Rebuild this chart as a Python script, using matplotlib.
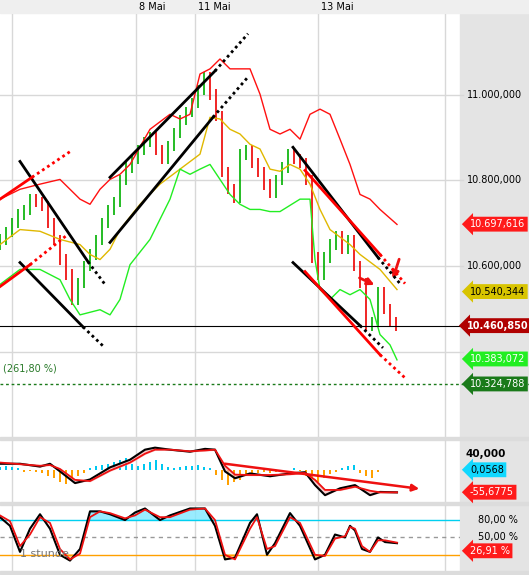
import matplotlib
matplotlib.use("Agg")
import matplotlib.pyplot as plt
import numpy as np

# ---- data ----
t_bars = list(range(0, 397, 6))
closes = [10.662,10.68,10.70,10.72,10.73,10.756,10.75,10.74,10.70,10.66,10.615,10.58,10.52,10.56,10.60,10.627,
          10.66,10.70,10.73,10.75,10.80,10.83,10.85,10.87,10.89,10.90,10.87,10.85,10.88,10.91,10.94,10.96,10.98,
          11.01,11.04,11.00,10.95,10.82,10.78,10.76,10.86,10.87,10.84,10.82,10.79,10.77,10.80,10.83,10.86,10.85,
          10.84,10.80,10.62,10.58,10.62,10.65,10.67,10.64,10.66,10.60,10.56,10.46,10.47,10.54,10.50,10.47,10.46]
open0 = 10.65

up_t = [0,20,40,60,70,80,90,100,110,120,130,150,170,180,190,200,210,220,230,240,250,260,270,280,290,300,310,320,330,340,350,360,370,380,397]
up_v = [10.756,10.779,10.791,10.802,10.779,10.756,10.744,10.779,10.802,10.814,10.837,10.919,10.954,10.943,10.954,11.048,11.060,11.083,11.060,11.060,11.060,11.001,10.919,10.908,10.919,10.896,10.954,10.966,10.954,10.896,10.837,10.767,10.756,10.732,10.697]
mid_t = [0,20,40,60,80,90,100,110,120,140,160,180,200,210,220,230,240,250,260,270,280,290,300,310,320,330,350,360,380,397]
mid_v = [10.650,10.685,10.681,10.662,10.650,10.627,10.615,10.639,10.685,10.744,10.791,10.826,10.861,10.947,10.943,10.919,10.908,10.884,10.873,10.826,10.821,10.837,10.826,10.791,10.732,10.685,10.650,10.627,10.592,10.545]
low_t = [0,20,40,60,70,80,100,110,120,130,150,170,180,190,200,210,220,230,240,250,260,270,280,300,310,315,320,330,340,350,360,370,380,390,397]
low_v = [10.557,10.592,10.592,10.568,10.522,10.486,10.498,10.486,10.522,10.603,10.662,10.756,10.826,10.814,10.826,10.837,10.802,10.767,10.744,10.732,10.732,10.727,10.727,10.756,10.756,10.615,10.545,10.522,10.545,10.533,10.545,10.522,10.440,10.416,10.381]

trend = [
    (110,10.807,215,11.055,248,11.142,'black'),
    (110,10.655,213,10.947,248,11.041,'black'),
    (20,10.844,88,10.610,105,10.557,'black'),
    (20,10.608,83,10.458,105,10.409,'black'),
    (0,10.756,32,10.807,72,10.870,'red'),
    (0,10.552,30,10.603,68,10.674,'red'),
    (293,10.877,378,10.620,400,10.559,'black'),
    (305,10.823,380,10.627,405,10.559,'red'),
    (293,10.608,360,10.461,383,10.409,'black'),
    (305,10.587,380,10.393,405,10.339,'red'),
]
last_price = 10.460850
fib_level = 10.324788

macd_t = [0,20,40,50,60,75,90,110,130,145,155,170,190,205,215,225,235,250,270,290,305,315,325,340,355,370,380,397]
macd_v = [15,15,8,15,-4,-33,-24,6,25,50,55,50,45,52,50,-4,-21,-9,-16,-9,-6,-38,-63,-46,-38,-63,-55,-56]
sig_v  = [18,14,10,12,2,-25,-28,-2,18,40,50,50,46,48,50,10,-12,-13,-13,-11,-8,-25,-50,-50,-42,-52,-56,-56]
hist_t = list(range(0, 379, 6))
hist_v = [8,10,8,5,-5,-3,-5,-8, -15,-20,-30,-35,-25,-15,-8, 5,10,12,15,20,25,30,15, 10,15,20,25,15,8,5,8,10,
          10,12,8,5, -12,-25,-38,-30,-25,-15,-10,-8, -5,-8,-5,-3,0,5,-3, -15,-25,-30,-20,-10,-5, 5,10,12,-8,-15,-20,-5]

st_t = [0,10,20,30,40,50,60,70,80,90,100,110,125,135,145,160,170,190,205,215,225,235,250,257,267,275,290,300,315,325,335,345,350,355,362,370,378,385,397]
st_k = [85,70,25,65,90,65,20,10,30,95,95,90,80,93,100,80,88,100,100,70,12,15,75,90,20,40,92,70,12,20,55,50,70,62,30,25,50,42,40]
st_d = [88,78,35,55,85,75,30,12,22,85,95,92,83,88,98,85,85,98,100,80,20,12,65,85,30,35,85,75,20,18,48,52,68,65,35,25,45,45,41]

date_t = [136, 195, 318]
date_lbl = ['8 Mai', '11 Mai', '13 Mai']
grid_t = [12, 136, 195, 318, 445]

# ---- figure ----
W, H = 529, 575
fig = plt.figure(figsize=(W/100, H/100), dpi=100)
fig.patch.set_facecolor('white')
def ax_px(x0, y0, x1, y1):
    return fig.add_axes([x0/W, 1-y1/H, (x1-x0)/W, (y1-y0)/H])

fig.add_artist(plt.Rectangle((460/W, 0), 69/W, 1, transform=fig.transFigure, color='#e4e4e4', zorder=0))
fig.add_artist(plt.Rectangle((0, 1-13/H), 1, 13/H, transform=fig.transFigure, color='#efefef', zorder=0))
for yb in (437, 502, 571):
    fig.add_artist(plt.Rectangle((0, 1-(yb+3)/H), 1, 3/H, transform=fig.transFigure, color='#dcdcdc', zorder=0))
for x, l in zip(date_t, date_lbl):
    fig.text((x+3)/W, 1-7/H, l, fontsize=7, va='center', ha='left')

XL = (0, 460)
axm = ax_px(0, 14, 460, 437)
axd = ax_px(0, 440, 460, 502)
axs = ax_px(0, 505, 460, 571)
for a in (axm, axd, axs):
    a.set_xlim(*XL)
    a.set_xticks([]); a.set_yticks([])
    a.patch.set_alpha(0)
    for s in a.spines.values(): s.set_visible(False)
    for g in grid_t:
        a.axvline(g, color='#d8d8d8', lw=1, zorder=0)

# main
axm.set_ylim(10.201, 11.188)
for lv in [10.4, 10.6, 10.8, 11.0]:
    axm.plot([0, 463], [lv, lv], color='#d8d8d8', lw=1, zorder=0, clip_on=False)
prev = open0
for t, c in zip(t_bars, closes):
    col = '#00b000' if c >= prev else '#ee0000'
    lo, hi = min(prev, c) - 0.012, max(prev, c) + 0.012
    axm.vlines(t, lo, hi, color=col, lw=1.2, zorder=2)
    prev = c
axm.plot(up_t, up_v, color='#ff1010', lw=1)
axm.plot(mid_t, mid_v, color='#e0b800', lw=1)
axm.plot(low_t, low_v, color='#22ee22', lw=1)
for t0, p0, t1, p1, t2, p2, col in trend:
    axm.plot([t0, t1], [p0, p1], color=col, lw=2, zorder=4)
    axm.plot([t1, t2], [p1, p2], color=col, lw=2, ls=(0, (1, 1.2)), zorder=4)
axm.annotate('', xy=(392, 10.564), xytext=(400, 10.622),
             arrowprops=dict(arrowstyle='-|>', color='#ee1111', lw=2))
axm.annotate('', xy=(377, 10.553), xytext=(357, 10.575),
             arrowprops=dict(arrowstyle='-|>', color='#ee1111', lw=2))
axm.plot([0, 463], [last_price, last_price], color='black', lw=0.8, clip_on=False)
axm.plot([0, 529], [fib_level, fib_level], color='#1a7a1a', lw=1, ls=(0, (2, 2)), clip_on=False)
axm.text(3, 10.353, '(261,80 %)', fontsize=7, color='#2a7a2a')
for lv in [11.0, 10.8, 10.6]:
    axm.text(467, lv, f'{int(round(lv*1000)):,}'.replace(',', '.') + ',000', fontsize=7, va='center', clip_on=False)

def tag(ax, y, s, fc, tc='white', bold=False, x=470):
    ax.text(x, y, s, fontsize=7, va='center', ha='left', color=tc, clip_on=False,
            fontweight='bold' if bold else 'normal',
            bbox=dict(boxstyle='larrow,pad=0.25', fc=fc, ec='none'))
tag(axm, 10.697616, '10.697,616', '#ff1a1a')
tag(axm, 10.540344, '10.540,344', '#d8c400', tc='black')
tag(axm, last_price, '10.460,850', '#b00000', bold=True, x=467)
tag(axm, 10.383072, '10.383,072', '#22ee22')
tag(axm, fib_level, '10.324,788', '#1a7a1a')

# MACD
axd.set_ylim(-80, 74)
axd.bar(hist_t, hist_v, width=2.5, color=['#00c8f0' if v > 0 else '#ffa000' for v in hist_v], zorder=1)
xx = np.arange(0, 398)
mi = np.interp(xx, macd_t, macd_v)
si = np.interp(xx, macd_t, sig_v)
axd.fill_between(xx, mi, si, color='#f4b8b8', alpha=0.7)
axd.plot(macd_t, macd_v, color='black', lw=1.5)
axd.plot(macd_t, sig_v, color='#ee1111', lw=1.3)
axd.annotate('', xy=(422, -48), xytext=(222, 16),
             arrowprops=dict(arrowstyle='-|>', color='#ee1111', lw=1.8))
axd.text(466, 40, '40,000', fontsize=7.5, va='center', clip_on=False, fontweight='bold')
tag(axd, 0.0568, '0,0568', '#10d8ff', tc='black')
tag(axd, -55.6775, '-55,6775', '#ff1a1a')

# Stochastic
axs.set_ylim(-8, 106)
axs.plot([0, 460], [80, 80], color='#00d0f0', lw=1)
axs.plot([0, 460], [50, 50], color='#999999', lw=1, ls=(0, (3, 3)))
axs.plot([0, 460], [20, 20], color='#ffa000', lw=1)
ki = np.interp(xx, st_t, st_k)
di = np.interp(xx, st_t, st_d)
axs.fill_between(xx, ki, 80, where=ki > 80, color='#80e8ff', alpha=0.8)
axs.fill_between(xx, ki, 20, where=ki < 20, color='#ffc870', alpha=0.8)
axs.plot(st_t, st_k, color='black', lw=1.5)
axs.plot(st_t, st_d, color='#ee1111', lw=1.3)
axs.text(20, 17, '1 stunde', fontsize=8, color='#777777')
axs.text(478, 80, '80,00 %', fontsize=7, va='center', clip_on=False)
axs.text(478, 50, '50,00 %', fontsize=7, va='center', clip_on=False)
tag(axs, 26.91, '26,91 %', '#ff1a1a')

fig.savefig('out.png', dpi=100)
